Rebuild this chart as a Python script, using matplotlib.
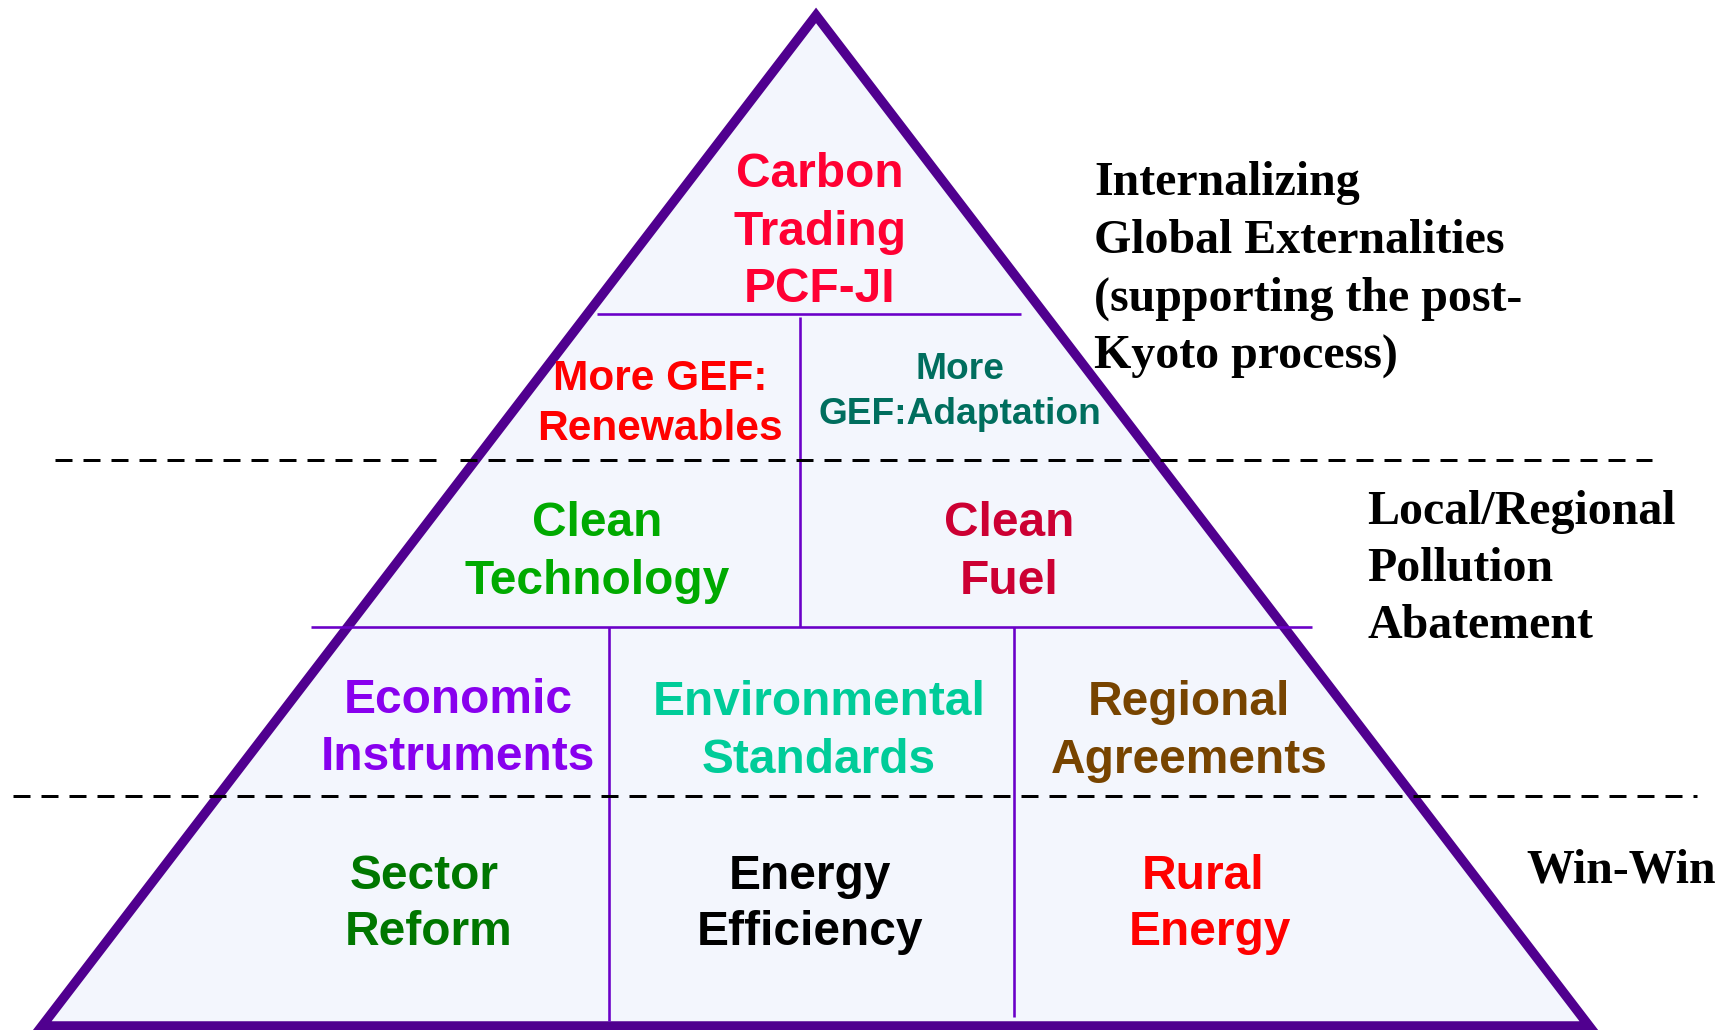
import matplotlib
matplotlib.use("Agg")
import matplotlib.pyplot as plt
from matplotlib.patches import Polygon

plt.rcParams["lines.scale_dashes"] = False

# ---------------- content ----------------
cell_texts = [
    ["Carbon", "Trading", "PCF-JI"],
    ["More GEF:", "Renewables"],
    ["More", "GEF:Adaptation"],
    ["Clean", "Technology"],
    ["Clean", "Fuel"],
    ["Economic", "Instruments"],
    ["Environmental", "Standards"],
    ["Regional", "Agreements"],
    ["Sector", "Reform"],
    ["Energy", "Efficiency"],
    ["Rural", "Energy"],
]
cell_colors = ["#FF0033", "#FF0000", "#006E5E", "#00AA00", "#CC0033",
               "#8800EE", "#00CC99", "#774400", "#007700", "#000000", "#FF0000"]

side_texts = [
    ["Internalizing", "Global Externalities", "(supporting the post-", "Kyoto process)"],
    ["Local/Regional", "Pollution", "Abatement"],
    ["Win-Win"],
]

# ---------------- layout (pixel canvas) ----------------
W, H, DPI = 1733, 1030, 100
PX = 72.0 / DPI  # points per pixel

apex = (816, 15.5)
base_left = (42, 1026)
base_right = (1589, 1026)

# (x centre of each line, first baseline, line spacing, font size pt)
cell_layout = [
    ([820, 820, 820], 187, 57.5, 34.5),
    ([660, 660], 390, 50, 30.5),
    ([960, 960], 379, 45, 26.7),
    ([597, 597], 536, 58, 34.5),
    ([1009, 1009], 536, 58, 34.5),
    ([458, 458], 713, 57, 34.5),
    ([819, 819], 715, 58, 34.5),
    ([1189, 1189], 715, 58, 34.5),
    ([424, 429], 889, 56, 34.5),
    ([810, 810], 889, 56, 34.5),
    ([1203, 1210], 889, 56, 34.5),
]
side_layout = [
    (1094, 195, 57.7),
    (1367, 524, 57),
    (1526, 882, 57),
]

solid_h = [(314, 597, 1021), (627, 311, 1312)]
solid_v = [(800, 317, 627), (609, 627, 1021), (1014, 627, 1017)]
dashed_h = [(460, 55, 437), (460, 460, 1652), (796, 13, 1697)]

outline_col = "#50008F"
inner_col = "#6A00C8"
fill_col = "#F3F6FD"

fig = plt.figure(figsize=((W + 0.1) / DPI, (H + 0.1) / DPI), dpi=DPI)
ax = fig.add_axes([0, 0, 1, 1])
ax.set_xlim(0, W)
ax.set_ylim(H, 0)
ax.axis("off")

tri = Polygon([apex, base_right, base_left], closed=True, facecolor=fill_col,
              edgecolor=outline_col, linewidth=9.5 * PX, joinstyle="miter", zorder=1)
ax.add_patch(tri)

for y, x0, x1 in solid_h:
    ax.plot([x0, x1], [y, y], color=inner_col, lw=2.6 * PX, solid_capstyle="butt", zorder=3)
for x, y0, y1 in solid_v:
    ax.plot([x, x], [y0, y1], color=inner_col, lw=2.6 * PX, solid_capstyle="butt", zorder=3)
for y, x0, x1 in dashed_h:
    ax.plot([x0, x1], [y, y], color="black", lw=3 * PX,
            linestyle=(0, (17 * PX, 11 * PX)), dash_capstyle="butt", zorder=4)

for lines, col, (xs, y0, dy, fs) in zip(cell_texts, cell_colors, cell_layout):
    for i, s in enumerate(lines):
        ax.text(xs[i], y0 + i * dy, s, ha="center", va="baseline", color=col,
                fontsize=fs, fontweight="bold", family="Liberation Sans", zorder=5)

for lines, (x0, y0, dy) in zip(side_texts, side_layout):
    for i, s in enumerate(lines):
        ax.text(x0, y0 + i * dy, s, ha="left", va="baseline", color="black",
                fontsize=34.5, fontweight="bold", family="Liberation Serif", zorder=5)

fig.savefig("out.png", dpi=DPI)
